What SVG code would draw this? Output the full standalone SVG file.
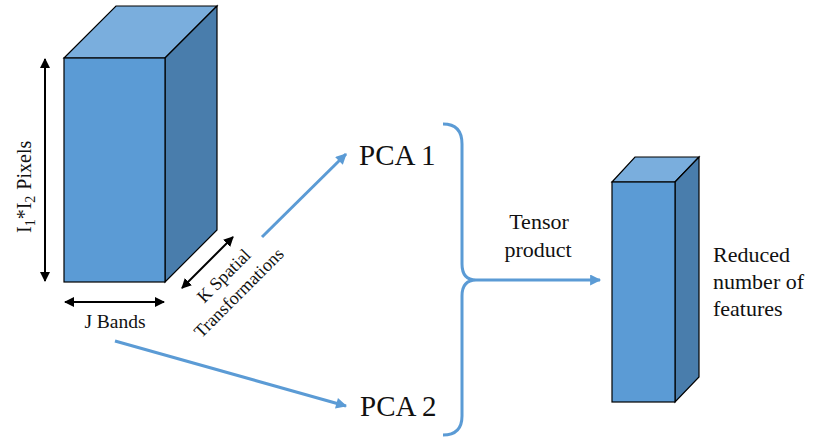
<svg xmlns="http://www.w3.org/2000/svg" width="815" height="439" viewBox="0 0 815 439">
<defs>
<marker id="blk" viewBox="0 0 10 10" refX="9" refY="5" markerWidth="10" markerHeight="10" markerUnits="userSpaceOnUse" orient="auto-start-reverse">
<path d="M0,0 L10,5 L0,10 Z" fill="#000"/>
</marker>
<marker id="blu" viewBox="0 0 10 10" refX="9" refY="5" markerWidth="12" markerHeight="11" markerUnits="userSpaceOnUse" orient="auto">
<path d="M0,0 L10,5 L0,10 Z" fill="#5B9BD5"/>
</marker>
<style>
.front{fill:#5B9BD5;stroke:#000;stroke-width:1.2}
.top{fill:#7AAEDD;stroke:#000;stroke-width:1.2}
.side{fill:#497DAC;stroke:#000;stroke-width:1.2}
.t{font-family:"Liberation Serif","Times New Roman",serif;fill:#111}
.dim{stroke:#000;stroke-width:2;fill:none;marker-start:url(#blk);marker-end:url(#blk)}
.flow{stroke:#5B9BD5;stroke-width:3;fill:none}
</style>
</defs>
<rect width="815" height="439" fill="#fff"/>

<g id="cube-input">
<polygon class="top" points="64,58 116,6 217,6 165,58"/>
<polygon class="side" points="165,58 217,6 217,230 165,282"/>
<rect class="front" x="64" y="58" width="101" height="224"/>
</g>

<g id="cube-output">
<polygon class="top" points="612,182 635,157 699,157 675,182"/>
<polygon class="side" points="675,182 699,157 699,377 675,402"/>
<rect class="front" x="612" y="182" width="63" height="220"/>
</g>

<g id="connectors">
<line class="dim" x1="45" y1="59" x2="45" y2="281"/>
<line class="dim" x1="65" y1="302" x2="164" y2="302"/>
<line class="dim" x1="182" y1="288" x2="233" y2="237"/>
<line class="flow" x1="262" y1="237" x2="346" y2="154" marker-end="url(#blu)"/>
<line class="flow" x1="115" y1="341" x2="346" y2="406" marker-end="url(#blu)"/>
<path class="flow" d="M443,124 Q462,124 462,144 L462,264 Q462,280 476,280 Q462,280 462,296 L462,416 Q462,435 443,435"/>
<line class="flow" x1="476" y1="280" x2="600" y2="280" marker-end="url(#blu)"/>
</g>

<g id="label-pixels">
<text class="t" font-size="20" transform="translate(31,233) rotate(-90)">I<tspan font-size="14" dy="4">1</tspan><tspan dy="-4">*I</tspan><tspan font-size="14" dy="4">2</tspan><tspan dy="-4" dx="6">Pixels</tspan></text>
</g>
<g id="label-bands">
<text class="t" font-size="19.5" x="115" y="328" text-anchor="middle">J Bands</text>
</g>
<g id="label-k">
<text class="t" font-size="18" text-anchor="middle" transform="translate(228,280) rotate(-45)">K Spatial</text>
<text class="t" font-size="18" text-anchor="middle" transform="translate(243,297) rotate(-45)">Transformations</text>
</g>
<g id="pca1">
<text class="t" font-size="29" x="359" y="165">PCA 1</text>
</g>
<g id="pca2">
<text class="t" font-size="29" x="360" y="416">PCA 2</text>
</g>
<g id="label-tensor">
<text class="t" font-size="22" x="539" y="229" text-anchor="middle">Tensor</text>
<text class="t" font-size="22" x="538" y="257" text-anchor="middle">product</text>
</g>
<g id="label-reduced">
<text class="t" font-size="22" x="713" y="262">Reduced</text>
<text class="t" font-size="22" x="713" y="289">number of</text>
<text class="t" font-size="22" x="713" y="316">features</text>
</g>
</svg>
